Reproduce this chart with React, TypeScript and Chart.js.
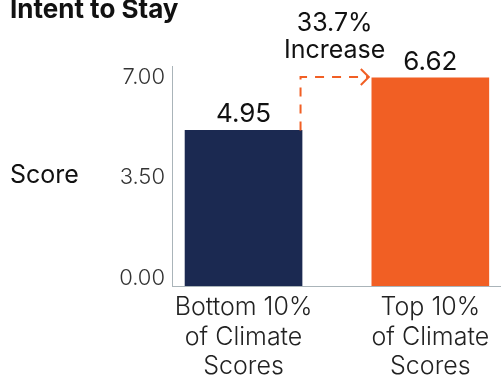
import React, { useEffect, useRef } from "react";
import { Chart, registerables } from "chart.js";

Chart.register(...registerables);

const chartTitle = "Intent to Stay";
const axisTitle = "Score";
const categories = [
  ["Bottom 10%", "of Climate", "Scores"],
  ["Top 10%", "of Climate", "Scores"],
];
const values = [4.95, 6.62];
const yTicks = [0, 3.5, 7];
const increaseWord = "Increase";
const barColors = ["#1b2951", "#f15f24"];

const FONT = "Inter, 'Open Sans', sans-serif";
const AXIS = "#aab4b9";

const overlay = {
  id: "overlay",
  afterDatasetsDraw(chart: any) {
    const ctx = chart.ctx;
    const meta = chart.getDatasetMeta(0);
    const ca = chart.chartArea;
    ctx.save();
    ctx.fillStyle = "#111";
    ctx.textAlign = "left";
    ctx.textBaseline = "alphabetic";
    ctx.font = `700 26px ${FONT}`;
    ctx.fillText(chartTitle, 10, 18);
    ctx.font = `400 25px ${FONT}`;
    ctx.fillText(axisTitle, 10, (ca.top + ca.bottom) / 2 + 7);

    ctx.textAlign = "center";
    ctx.font = `400 26px ${FONT}`;
    meta.data.forEach((bar: any, i: number) => {
      ctx.fillText(values[i].toFixed(2), bar.x, bar.y - 8);
    });

    const a = meta.data[0];
    const b = meta.data[1];
    const x0 = a.x + a.width / 2 - 1.5;
    const y1 = b.y - 1;
    const x1 = b.x - b.width / 2 - 3;
    ctx.strokeStyle = barColors[1];
    ctx.lineWidth = 2;
    ctx.setLineDash([9, 8]);
    ctx.beginPath();
    ctx.moveTo(x0, a.y);
    ctx.lineTo(x0, y1);
    ctx.lineTo(x1, y1);
    ctx.stroke();
    ctx.setLineDash([]);
    ctx.beginPath();
    ctx.moveTo(x1 - 8, y1 - 8);
    ctx.lineTo(x1, y1);
    ctx.lineTo(x1 - 8, y1 + 8);
    ctx.stroke();

    const pct = (((values[1] - values[0]) / values[0]) * 100).toFixed(1) + "%";
    ctx.fillStyle = "#111";
    ctx.font = `400 25px ${FONT}`;
    const cx = (x0 + x1) / 2;
    ctx.fillText(pct, cx, y1 - 46);
    ctx.fillText(increaseWord, cx, y1 - 19);
    ctx.restore();
  },
};

export default function App() {
  const ref = useRef<HTMLCanvasElement | null>(null);
  useEffect(() => {
    if (!ref.current) return;
    const chart = new Chart(ref.current, {
      type: "bar",
      data: {
        datasets: [
          {
            data: values.map((v, i) => ({ x: i, y: v })),
            backgroundColor: barColors,
            borderWidth: 0,
            barThickness: 117,
          } as any,
        ],
      },
      options: {
        animation: false,
        responsive: true,
        maintainAspectRatio: false,
        layout: { padding: { left: 0, right: 1, top: 66, bottom: 0 } },
        plugins: {
          legend: { display: false },
          tooltip: { enabled: false },
          title: { display: false },
        },
        scales: {
          x: {
            type: "linear",
            min: -0.383,
            max: 1.373,
            offset: false,
            grid: { display: false, drawTicks: false, offset: false },
            border: { display: true, color: AXIS, width: 1 },
            afterBuildTicks: (s: any) => {
              s.ticks = categories.map((_, i) => ({ value: i }));
            },
            afterFit: (s: any) => {
              s.height = 93;
            },
            ticks: {
              callback: (v: any) => categories[Number(v)] ?? "",
              font: { family: FONT, size: 25, weight: 300 as any, lineHeight: 1.18 },
              color: "#222",
              padding: 7,
              maxRotation: 0,
              autoSkip: false,
            },
          },
          y: {
            type: "linear",
            position: "left",
            weight: 0,
            min: 0,
            max: 7,
            grid: { display: false, drawTicks: false },
            border: { display: true, color: AXIS, width: 1 },
            ticks: { display: false },
            afterFit: (s: any) => {
              s.width = 0;
            },
          },
          yl: {
            type: "linear",
            position: "left",
            weight: 1,
            min: -0.279,
            max: 7.383,
            grid: { display: false, drawTicks: false },
            border: { display: false },
            afterBuildTicks: (s: any) => {
              s.ticks = yTicks.map((v) => ({ value: v }));
            },
            afterFit: (s: any) => {
              s.width = 172;
            },
            ticks: {
              callback: (v: any) => Number(v).toFixed(2),
              font: { family: FONT, size: 22, weight: 300 as any },
              color: "#333",
              padding: 7,
            },
          },
        } as any,
      },
      plugins: [overlay],
    });
    return () => chart.destroy();
  }, []);
  return (
    <div style={{ position: "fixed", left: 0, top: 0, width: 501, height: 379, background: "#fff" }}>
      <canvas ref={ref} style={{ width: "100%", height: "100%" }} />
    </div>
  );
}
